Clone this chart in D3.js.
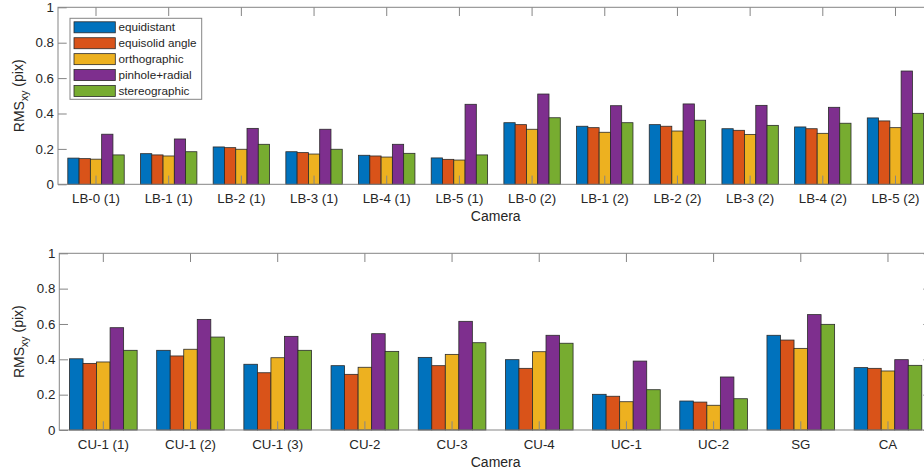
<!DOCTYPE html>
<html>
<head>
<meta charset="utf-8">
<script src="https://cdn.jsdelivr.net/npm/d3@7"></script>
<style>
  body { margin: 0; background: #fff; }
  text { font-family: "Liberation Sans", Arial, Helvetica, sans-serif; fill: #262626; }
</style>
</head>
<body>
<script>
// data
var seriesNames = ["equidistant", "equisolid angle", "orthographic", "pinhole+radial", "stereographic"];
var seriesColors = ["#0072BD", "#D95319", "#EDB120", "#7E2F8E", "#77AC30"];

var camerasLB = ["LB-0 (1)", "LB-1 (1)", "LB-2 (1)", "LB-3 (1)", "LB-4 (1)", "LB-5 (1)",
                 "LB-0 (2)", "LB-1 (2)", "LB-2 (2)", "LB-3 (2)", "LB-4 (2)", "LB-5 (2)"];
var lbEquidistant  = [0.148, 0.173, 0.211, 0.184, 0.164, 0.149, 0.348, 0.328, 0.337, 0.314, 0.324, 0.375];
var lbEquisolid    = [0.145, 0.166, 0.207, 0.179, 0.160, 0.141, 0.337, 0.320, 0.328, 0.305, 0.314, 0.358];
var lbOrthographic = [0.142, 0.160, 0.198, 0.171, 0.154, 0.137, 0.311, 0.294, 0.301, 0.282, 0.288, 0.320];
var lbPinhole      = [0.283, 0.256, 0.316, 0.311, 0.226, 0.452, 0.510, 0.444, 0.454, 0.446, 0.435, 0.640];
var lbStereo       = [0.166, 0.184, 0.226, 0.198, 0.175, 0.166, 0.376, 0.348, 0.362, 0.333, 0.345, 0.401];

var camerasCU = ["CU-1 (1)", "CU-1 (2)", "CU-1 (3)", "CU-2", "CU-3", "CU-4", "UC-1", "UC-2", "SG", "CA"];
var cuEquidistant  = [0.403, 0.451, 0.372, 0.364, 0.411, 0.398, 0.202, 0.164, 0.536, 0.353];
var cuEquisolid    = [0.377, 0.419, 0.324, 0.315, 0.364, 0.349, 0.191, 0.158, 0.509, 0.349];
var cuOrthographic = [0.385, 0.457, 0.409, 0.355, 0.428, 0.443, 0.160, 0.140, 0.462, 0.334];
var cuPinhole      = [0.579, 0.626, 0.530, 0.545, 0.615, 0.536, 0.390, 0.300, 0.653, 0.398];
var cuStereo       = [0.451, 0.526, 0.451, 0.445, 0.494, 0.491, 0.228, 0.177, 0.598, 0.366];

var yTicks = [0, 0.2, 0.4, 0.6, 0.8, 1];

var svgWidth = 924;
var svgHeight = 472;
var axisColor = "#858585";
var tickLen = 8.7;

var svg = d3.select("body")
  .append("svg")
  .attr("width", svgWidth)
  .attr("height", svgHeight);

function drawPanel(p) {
  var g = svg.append("g");

  var x0 = d3.scaleBand()
    .domain(p.cameras)
    .range([p.left, p.right])
    .paddingInner(0)
    .paddingOuter(p.padOuter);

  var groupWidth = x0.step() * 0.776;
  var x1 = d3.scaleBand()
    .domain(seriesNames)
    .range([-groupWidth / 2, groupWidth / 2]);

  var y = d3.scaleLinear().domain([0, 1]).range([p.bottom, p.top]);

  // bars
  var groups = g.selectAll(".grp")
    .data(p.cameras)
    .enter().append("g")
    .attr("transform", function(d) { return "translate(" + (x0(d) + x0.bandwidth() / 2) + ",0)"; });

  groups.selectAll("rect")
    .data(function(d, i) {
      return seriesNames.map(function(s, j) { return {name: s, idx: j, value: p.values[j][i]}; });
    })
    .enter().append("rect")
    .attr("x", function(d) { return x1(d.name); })
    .attr("y", function(d) { return y(d.value); })
    .attr("width", x1.bandwidth())
    .attr("height", function(d) { return y(0) - y(d.value); })
    .attr("fill", function(d) { return seriesColors[d.idx]; })
    .attr("stroke", "#2a2a2a")
    .attr("stroke-width", 0.8);

  // axes (ticks inward, box on)
  var bottomAxis = d3.axisBottom(x0).tickSizeInner(-tickLen).tickSizeOuter(0).tickPadding(9.5);
  var topAxis = d3.axisTop(x0).tickSizeInner(-tickLen).tickSizeOuter(0).tickFormat("");
  var leftAxis = d3.axisLeft(y).tickValues(yTicks).tickSizeInner(-tickLen).tickSizeOuter(0)
    .tickPadding(4).tickFormat(d3.format("~g"));
  var rightAxis = d3.axisRight(y).tickValues(yTicks).tickSizeInner(-tickLen).tickSizeOuter(0).tickFormat("");

  var axes = [
    g.append("g").attr("transform", "translate(0," + p.bottom + ")").call(bottomAxis),
    g.append("g").attr("transform", "translate(0," + p.top + ")").call(topAxis),
    g.append("g").attr("transform", "translate(" + p.left + ",0)").call(leftAxis),
    g.append("g").attr("transform", "translate(" + p.right + ",0)").call(rightAxis)
  ];
  axes.forEach(function(a) {
    a.select(".domain").remove();
    a.selectAll("line").attr("stroke", axisColor);
    a.selectAll("text").attr("fill", "#262626").style("font-size", "13.3px")
      .style("font-family", "'Liberation Sans', Arial, sans-serif");
  });

  g.append("rect")
    .attr("x", p.left)
    .attr("y", p.top)
    .attr("width", p.right - p.left)
    .attr("height", p.bottom - p.top)
    .attr("fill", "none")
    .attr("stroke", axisColor)
    .attr("stroke-width", 1);

  // axis labels
  g.append("text")
    .attr("x", (p.left + p.right) / 2)
    .attr("y", p.bottom + 36.5)
    .attr("text-anchor", "middle")
    .style("font-size", "14px")
    .text("Camera");

  var yl = g.append("text")
    .attr("transform", "translate(" + 24 + "," + ((p.top + p.bottom) / 2) + ") rotate(-90)")
    .attr("text-anchor", "middle")
    .style("font-size", "14px");
  yl.append("tspan").text("RMS");
  yl.append("tspan").attr("dy", "0.35em").style("font-size", "10.5px").text("xy");
  yl.append("tspan").attr("dy", "-0.35em").text(" (pix)");
}

drawPanel({
  cameras: camerasLB,
  values: [lbEquidistant, lbEquisolid, lbOrthographic, lbPinhole, lbStereo],
  left: 58, right: 933.5, top: 7.3, bottom: 184.3, padOuter: 0.023
});

drawPanel({
  cameras: camerasCU,
  values: [cuEquidistant, cuEquisolid, cuOrthographic, cuPinhole, cuStereo],
  left: 59.3, right: 932, top: 253.3, bottom: 430, padOuter: 0.005
});

// legend (top panel)
var legend = svg.append("g");
legend.append("rect")
  .attr("x", 70).attr("y", 18.3)
  .attr("width", 131.7).attr("height", 81)
  .attr("fill", "#fff")
  .attr("stroke", axisColor);

var legendY = d3.scalePoint().domain(seriesNames).range([27.3, 91]);

var items = legend.selectAll(".item")
  .data(seriesNames)
  .enter().append("g")
  .attr("transform", function(d) { return "translate(0," + legendY(d) + ")"; });

items.append("rect")
  .attr("x", 74).attr("y", -5.5)
  .attr("width", 41.3).attr("height", 11)
  .attr("fill", function(d, i) { return seriesColors[i]; })
  .attr("stroke", "#2a2a2a")
  .attr("stroke-width", 0.8);

items.append("text")
  .attr("x", 118.5)
  .attr("dy", "0.35em")
  .style("font-size", "11.7px")
  .text(function(d) { return d; });
</script>
</body>
</html>
